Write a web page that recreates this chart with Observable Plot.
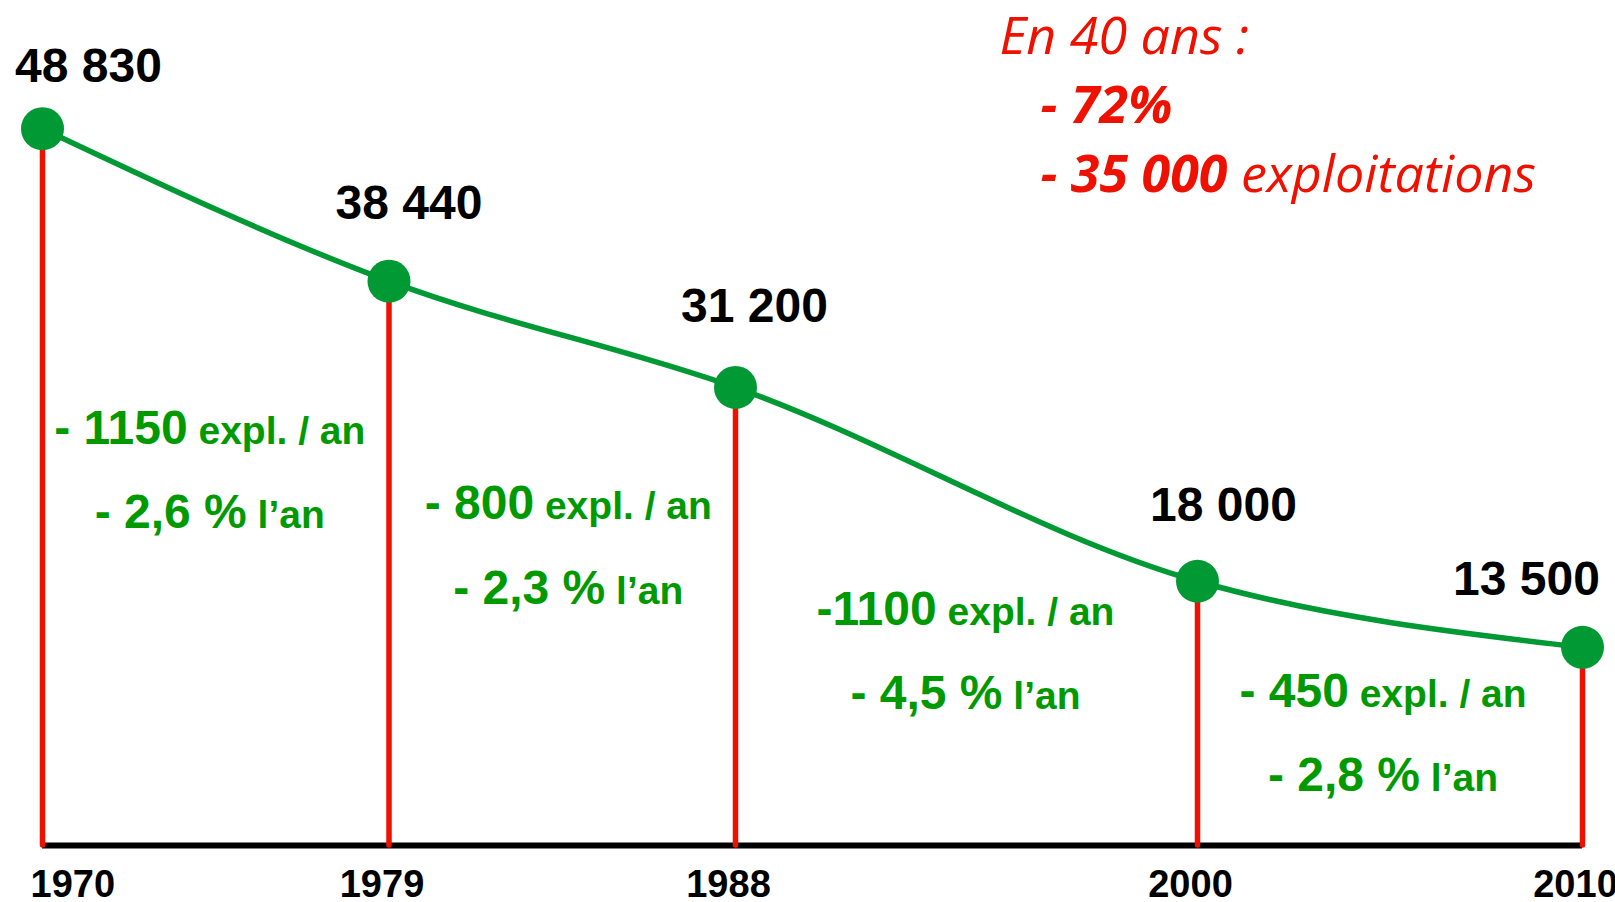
<!DOCTYPE html>
<html><head><meta charset="utf-8">
<script src="https://cdn.jsdelivr.net/npm/d3@7"></script>
<script src="https://cdn.jsdelivr.net/npm/@observablehq/plot@0.6"></script>
<style>html,body{margin:0;padding:0;background:#fff;} #chart svg{display:block}</style>
</head><body><div id="chart"></div>
<script>
// ---- data ----
const years = [1970, 1979, 1988, 2000, 2010];
const values = [48830, 38440, 31200, 18000, 13500];
const valueLabels = ["48 830", "38 440", "31 200", "18 000", "13 500"];
const perYear = ["- 1150", "- 800", "-1100", "- 450"];
const perYearUnit = "expl. / an";
const pctYear = ["- 2,6 %", "- 2,3 %", "- 4,5 %", "- 2,8 %"];
const pctUnit = "l\u2019an";
const summaryTitle = "En 40 ans :";
const summaryPct = "- 72%";
const summaryCount = "- 35 000";
const summaryUnit = "exploitations";

// ---- layout ----
const W = 1615, H = 902;
const ML = 42, MR = 33, MT = 111, MB = 57;
const GREEN_LINE = "#009933", GREEN_TEXT = "#009a00", RED = "#ee1100";
const SANS = "'Liberation Sans', Arial, sans-serif";
const ITAL = "'Open Sans', sans-serif";

const ctx = document.createElement("canvas").getContext("2d");
function tw(text, font) { ctx.font = font; return ctx.measureText(text).width; }

const data = years.map((y, i) => ({year: y, value: values[i], label: valueLabels[i]}));

const marks = [];
// baseline
marks.push(Plot.ruleY([0], {stroke: "#000", strokeWidth: 6}));
// red drop lines
marks.push(Plot.ruleX(data, {x: "year", y1: 0, y2: "value", stroke: RED, strokeWidth: 5.5, strokeLinecap: "round"}));
// green line
marks.push(Plot.line(data, {x: "year", y: "value", stroke: GREEN_LINE, strokeWidth: 5.5, curve: "monotone-x"}));
// dots
marks.push(Plot.dot(data, {x: "year", y: "value", r: 21.5, fill: GREEN_LINE}));

// value labels (offsets are layout)
const labOff = [[46, -47], [20, -62], [19, -65], [26, -60], [-56, -52]];
data.forEach((d, i) => {
  marks.push(Plot.text([d], {x: "year", y: "value", text: "label", dx: labOff[i][0], dy: labOff[i][1],
    lineAnchor: "bottom", fontSize: 48, fontWeight: "bold", fill: "#000", fontFamily: SANS}));
});

// year labels
const yearsData = years.map(y => ({year: y}));
marks.push(Plot.text(yearsData.slice(0, 1), {x: "year", text: d => String(d.year), frameAnchor: "bottom", lineAnchor: "bottom",
  dy: 51, textAnchor: "start", dx: -12, fontSize: 38, fontWeight: "bold", fill: "#000", fontFamily: SANS}));
marks.push(Plot.text(yearsData.slice(1), {x: "year", text: d => String(d.year), frameAnchor: "bottom", lineAnchor: "bottom",
  dy: 51, textAnchor: "middle", dx: -7, fontSize: 38, fontWeight: "bold", fill: "#000", fontFamily: SANS}));

// segment annotations
const numSize = 48, unitSize = 39;
const numFont = `bold ${numSize}px ${SANS}`, unitFont = `bold ${unitSize}px ${SANS}`;
const base1 = [443, 518, 624, 706];
const base2 = [527, 603, 708, 790];
const segShift = [-6, 6, -1, -7];
for (let i = 0; i < years.length - 1; i++) {
  const cx = (years[i] + years[i + 1]) / 2;
  [[perYear[i], perYearUnit, base1[i]], [pctYear[i], pctUnit, base2[i]]].forEach(([num, unit, base]) => {
    const wN = tw(num, numFont), wS = tw(" ", unitFont), wU = tw(unit, unitFont);
    const total = wN + wS + wU;
    const start = -total / 2 + segShift[i];
    const row = [{x: cx, num, unit}];
    marks.push(Plot.text(row, {x: "x", text: "num", frameAnchor: "top", lineAnchor: "bottom", dy: base - MT,
      dx: start, textAnchor: "start", fontSize: numSize, fontWeight: "bold", fill: GREEN_TEXT, fontFamily: SANS}));
    marks.push(Plot.text(row, {x: "x", text: "unit", frameAnchor: "top", lineAnchor: "bottom", dy: base - MT,
      dx: start + wN + wS, textAnchor: "start", fontSize: unitSize, fontWeight: "bold", fill: GREEN_TEXT, fontFamily: SANS}));
  });
}

// summary (top right)
const sumSize = 52;
const boldItal = `italic bold ${sumSize}px ${ITAL}`, ital = `italic ${sumSize}px ${ITAL}`;
const tl = (txt, px, py, weight) => Plot.text([txt], {text: d => d, frameAnchor: "top-left", lineAnchor: "bottom",
  dx: px - ML, dy: py - MT, textAnchor: "start", fontSize: sumSize, fontStyle: "italic", fontWeight: weight, fill: RED, fontFamily: ITAL});
marks.push(tl(summaryTitle, 999, 53, "normal"));
marks.push(tl(summaryPct, 1040, 122, "bold"));
marks.push(tl(summaryCount, 1040, 191, "bold"));
marks.push(tl(summaryUnit, 1040 + tw(summaryCount, boldItal) + tw(" ", ital), 191, "normal"));

const chart = Plot.plot({
  width: W, height: H,
  marginLeft: ML, marginRight: MR, marginTop: MT, marginBottom: MB,
  x: {domain: [1970, 2010], axis: null},
  y: {domain: [0, 50000], axis: null},
  style: {background: "#fff", overflow: "visible"},
  marks
});
document.getElementById("chart").appendChild(chart);
</script>
</body></html>
